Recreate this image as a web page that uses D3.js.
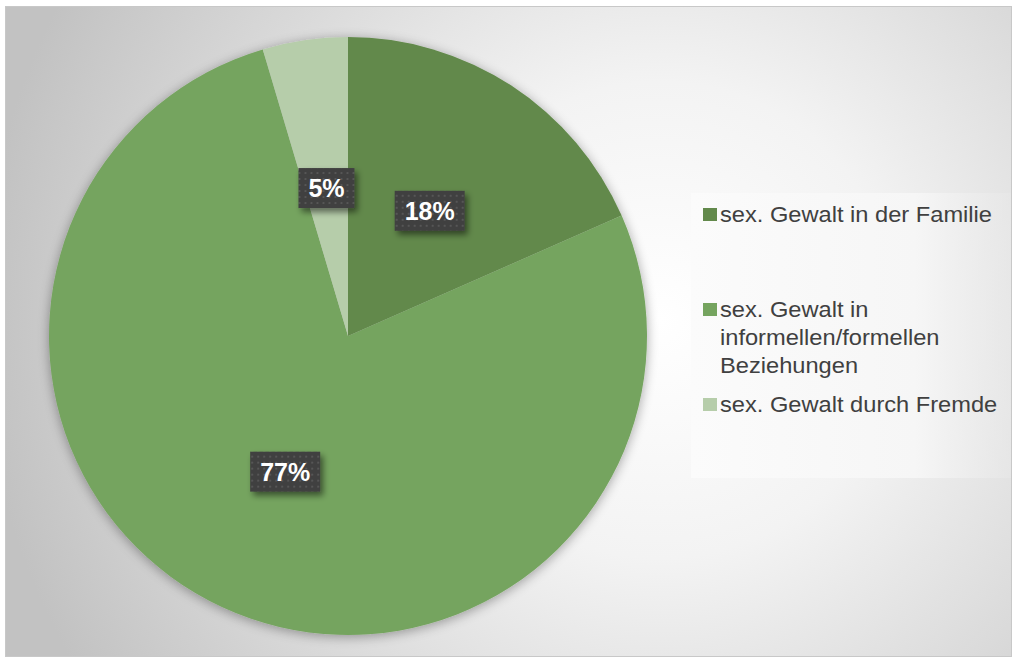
<!DOCTYPE html>
<html><head><meta charset="utf-8">
<script src="https://cdn.jsdelivr.net/npm/d3@7"></script>
<style>html,body{margin:0;padding:0;background:#fff;}svg{display:block;font-family:Arial,"Liberation Sans",sans-serif;}</style>
</head><body>
<svg id="c" width="1016" height="662"></svg>
<script>
const categories = ["sex. Gewalt in der Familie", "sex. Gewalt in informellen/formellen Beziehungen", "sex. Gewalt durch Fremde"];
const legendLines = [["sex. Gewalt in der Familie"], ["sex. Gewalt in", "informellen/formellen", "Beziehungen"], ["sex. Gewalt durch Fremde"]];
const values = [18.4, 77.0, 4.6];
const colors = ["#62894b", "#75a45f", "#b6cdaa"];

const svg = d3.select("#c");
const defs = svg.append("defs");
const bg = defs.append("radialGradient").attr("id","bg").attr("gradientUnits","userSpaceOnUse")
  .attr("cx",660).attr("cy",320).attr("r",680);
bg.append("stop").attr("offset","0%").attr("stop-color","#ffffff");
bg.append("stop").attr("offset","35%").attr("stop-color","#f3f3f3");
bg.append("stop").attr("offset","100%").attr("stop-color","#c2c2c2");

const sh = defs.append("filter").attr("id","pieShadow").attr("x","-20%").attr("y","-20%").attr("width","140%").attr("height","140%");
sh.append("feGaussianBlur").attr("in","SourceAlpha").attr("stdDeviation",6).attr("result","b");
sh.append("feOffset").attr("in","b").attr("dx",0).attr("dy",2).attr("result","o");
sh.append("feComponentTransfer").attr("in","o").attr("result","o2").append("feFuncA").attr("type","linear").attr("slope",0.35);
const m1 = sh.append("feMerge"); m1.append("feMergeNode").attr("in","o2"); m1.append("feMergeNode").attr("in","SourceGraphic");

const ls = defs.append("filter").attr("id","lblShadow").attr("x","-30%").attr("y","-30%").attr("width","160%").attr("height","160%");
ls.append("feGaussianBlur").attr("in","SourceAlpha").attr("stdDeviation",3).attr("result","b");
ls.append("feOffset").attr("in","b").attr("dx",3).attr("dy",4).attr("result","o");
ls.append("feComponentTransfer").attr("in","o").attr("result","o2").append("feFuncA").attr("type","linear").attr("slope",0.5);
const m2 = ls.append("feMerge"); m2.append("feMergeNode").attr("in","o2"); m2.append("feMergeNode").attr("in","SourceGraphic");

const pat = defs.append("pattern").attr("id","dots").attr("patternUnits","userSpaceOnUse").attr("width",6).attr("height",6);
pat.append("rect").attr("width",6).attr("height",6).attr("fill","#3f3f3f");
pat.append("rect").attr("x",2).attr("y",2).attr("width",2).attr("height",2).attr("fill","#565656");

const lg = defs.append("linearGradient").attr("id","lgbg").attr("x1","0").attr("y1","0").attr("x2","1").attr("y2","0");
lg.append("stop").attr("offset","0%").attr("stop-color","#fbfbfb");
lg.append("stop").attr("offset","70%").attr("stop-color","#f6f6f6");
lg.append("stop").attr("offset","100%").attr("stop-color","#e8e8e8").attr("stop-opacity",0.6);

// frame
svg.append("rect").attr("x",5.5).attr("y",6.5).attr("width",1006).attr("height",650)
  .attr("fill","url(#bg)").attr("stroke","#c8c8c8").attr("stroke-width",1);

// pie
const cx = 348, cy = 336, R = 299;
const pie = d3.pie().sort(null).value(d => d)(values);
const arc = d3.arc().innerRadius(0).outerRadius(R);
const labelArc = d3.arc().innerRadius(R*0.5).outerRadius(R*0.5);
const g = svg.append("g").attr("transform",`translate(${cx},${cy})`);
g.append("g").attr("filter","url(#pieShadow)").selectAll("path").data(pie).join("path")
  .attr("d",arc).attr("fill",(d,i)=>colors[i]);

// legend box
svg.append("rect").attr("x",691).attr("y",193).attr("width",320).attr("height",285).attr("fill","url(#lgbg)");

// labels
const fmt = d3.format(".0f");
const lbl = g.append("g").selectAll("g").data(pie).join("g")
  .attr("transform", d => `translate(${labelArc.centroid(d)})`);
lbl.each(function(d){
  const t = fmt(d.data) + "%";
  const w = t.length === 2 ? 56 : 70, h = 40;
  const s = d3.select(this);
  s.append("rect").attr("x",-w/2).attr("y",-h/2).attr("width",w).attr("height",h)
    .attr("fill","url(#dots)").attr("filter","url(#lblShadow)");
  s.append("text").attr("text-anchor","middle").attr("y",9).attr("fill","#ffffff")
    .attr("font-weight","bold").attr("font-size","25px").text(t);
});

// legend
const legendY = [222, 317, 412];
const leg = svg.append("g").selectAll("g").data(categories).join("g")
  .attr("transform",(d,i)=>`translate(703,${legendY[i]})`);
leg.append("rect").attr("x",0).attr("y",-14).attr("width",14).attr("height",13).attr("fill",(d,i)=>colors[i]);
leg.append("text").attr("fill","#404040").attr("font-size","21.5px")
  .attr("transform","translate(17,0) scale(1.1,1)")
  .each(function(d,i){
    const t = d3.select(this);
    legendLines[i].forEach((line,j)=>{
      t.append("tspan").attr("x",0).attr("y",j*28).text(line);
    });
  });
</script>
</body></html>
